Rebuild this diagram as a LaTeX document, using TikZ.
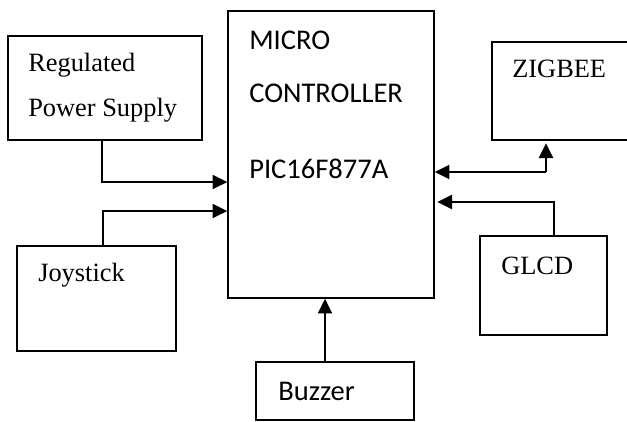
\documentclass[tikz,border=0pt]{standalone}
\usepackage{fontspec}
\setmainfont{Liberation Serif}
\newfontfamily\calibri{Carlito}
\usetikzlibrary{arrows.meta,fit,positioning}

\begin{document}
\begin{tikzpicture}[x=0.75pt,y=-0.75pt,>={Triangle[length=11pt,width=10.5pt]},
    box/.style={draw,line width=1pt,inner sep=0pt},
    serif/.style={anchor=base west,inner sep=0pt,font=\fontsize{19.8}{24}\selectfont},
    sans/.style={anchor=base west,inner sep=0pt,font=\calibri\fontsize{21.4}{26}\selectfont},
    link/.style={->,line width=1.5pt}]
    \useasboundingbox (0,0) rectangle (627,421);

    \node[box,fit={(8,36) (202,140)}]    (psu)    {};
    \node[box,fit={(228,11) (434,298)}]  (mcu)    {};
    \node[box,fit={(492,42) (640,140)}]  (zigbee) {};
    \node[box,fit={(480,236) (607,335)}] (glcd)   {};
    \node[box,fit={(17,246) (176,351)}]  (joy)    {};
    \node[box,fit={(256,362) (414,420)}] (buzzer) {};

    \node[serif] (psu1)   at (28,71)   {Regulated};
    \node[serif] (psu2)   at (28,116)  {Power Supply};
    \node[sans]  (mcu1)   at (249,49)  {MICRO};
    \node[sans]  (mcu2)   at (249,102) {CONTROLLER};
    \node[sans]  (mcu3)   at (249,178) {PIC16F877A};
    \node[serif] (zbtxt)  at (512,77)  {ZIGBEE};
    \node[serif] (lcdtxt) at (501,274) {GLCD};
    \node[serif] (joytxt) at (38,281)  {Joystick};
    \node[sans]  (buztxt) at (278,400) {Buzzer};

    \coordinate (p1) at (102,182);
    \coordinate (p2) at (103,211);
    \coordinate (p3) at (546,172);
    \coordinate (p4) at (554,202);
    \coordinate (p5) at (325,330);

    \draw[link] (psu.south -| p1) |- (mcu.west |- p1);
    \draw[link] (joy.north -| p2) |- (mcu.west |- p2);
    \draw[link] (p3) -- (mcu.east |- p3);
    \draw[link,shorten >=2pt] (p3) -- (p3 |- zigbee.south);
    \draw[link,shorten >=2pt] (glcd.north -| p4) |- (mcu.east |- p4);
    \draw[link] (buzzer.north -| p5) -- (mcu.south -| p5);
\end{tikzpicture}
\end{document}
